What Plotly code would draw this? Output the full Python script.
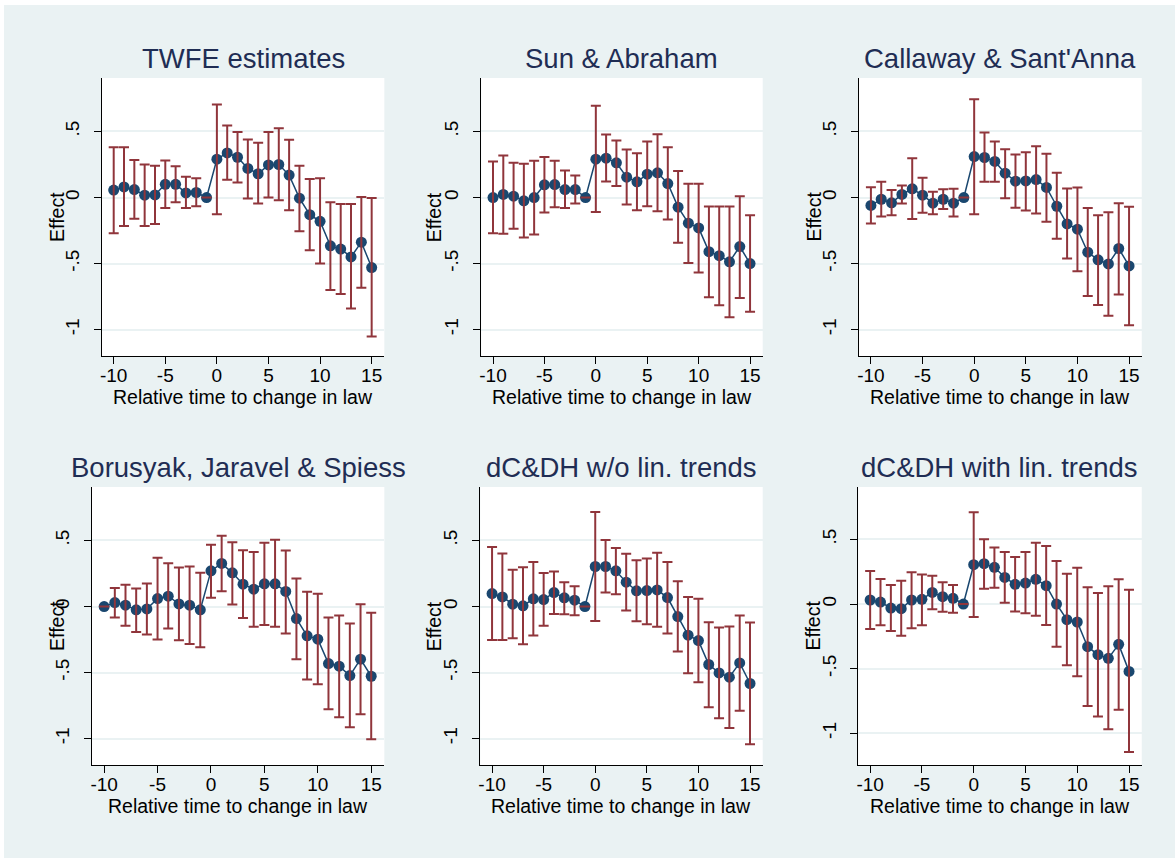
import plotly.graph_objects as go

rel_time = list(range(-10, 16))

panel_titles = ["TWFE estimates", "Sun & Abraham", "Callaway & Sant'Anna",
                "Borusyak, Jaravel & Spiess", "dC&DH w/o lin. trends", "dC&DH with lin. trends"]

twfe_est = [0.056, 0.080, 0.060, 0.018, 0.020, 0.100, 0.100, 0.035, 0.038, 0.0, 0.290, 0.338, 0.305, 0.220, 0.180, 0.247, 0.250, 0.170, -0.005, -0.130, -0.180, -0.366, -0.390, -0.450, -0.338, -0.530]
twfe_hi = [0.380, 0.380, 0.285, 0.250, 0.240, 0.280, 0.237, 0.157, 0.146, 0.0, 0.705, 0.545, 0.497, 0.440, 0.414, 0.497, 0.525, 0.437, 0.240, 0.141, 0.146, -0.035, -0.050, -0.050, 0.003, -0.003]
twfe_lo = [-0.270, -0.215, -0.160, -0.215, -0.200, -0.080, -0.035, -0.080, -0.066, 0.0, -0.126, 0.134, 0.114, -0.008, -0.045, 0.000, -0.020, -0.096, -0.255, -0.400, -0.500, -0.700, -0.730, -0.840, -0.684, -1.053]

sa_est = [0.0, 0.023, 0.010, -0.025, 0.0, 0.096, 0.098, 0.060, 0.060, 0.0, 0.290, 0.298, 0.263, 0.154, 0.119, 0.177, 0.187, 0.106, -0.073, -0.194, -0.230, -0.410, -0.440, -0.487, -0.371, -0.500]
sa_hi = [0.273, 0.318, 0.263, 0.255, 0.278, 0.306, 0.278, 0.205, 0.167, 0.0, 0.694, 0.477, 0.432, 0.364, 0.336, 0.424, 0.480, 0.381, 0.200, 0.104, 0.104, -0.068, -0.068, -0.068, 0.010, -0.134]
sa_lo = [-0.270, -0.275, -0.237, -0.303, -0.280, -0.114, -0.073, -0.080, -0.045, 0.0, -0.109, 0.121, 0.088, -0.053, -0.096, -0.066, -0.104, -0.167, -0.343, -0.495, -0.568, -0.755, -0.816, -0.907, -0.760, -0.864]

cs_est = [-0.060, -0.013, -0.040, 0.023, 0.066, 0.018, -0.043, -0.013, -0.043, 0.0, 0.310, 0.303, 0.273, 0.184, 0.124, 0.126, 0.136, 0.076, -0.066, -0.200, -0.240, -0.414, -0.472, -0.503, -0.386, -0.518]
cs_hi = [0.078, 0.119, 0.056, 0.091, 0.298, 0.149, 0.043, 0.063, 0.066, 0.0, 0.745, 0.492, 0.424, 0.366, 0.326, 0.343, 0.389, 0.331, 0.187, 0.068, 0.076, -0.080, -0.134, -0.111, -0.043, -0.070]
cs_lo = [-0.197, -0.144, -0.134, -0.045, -0.162, -0.116, -0.126, -0.086, -0.144, 0.0, -0.126, 0.119, 0.119, -0.005, -0.078, -0.098, -0.121, -0.184, -0.313, -0.462, -0.558, -0.745, -0.813, -0.896, -0.735, -0.967]

bjs_est = [0.0, 0.030, 0.010, -0.025, -0.018, 0.060, 0.078, 0.020, 0.010, -0.025, 0.270, 0.326, 0.255, 0.169, 0.131, 0.172, 0.172, 0.114, -0.091, -0.222, -0.247, -0.432, -0.452, -0.523, -0.399, -0.528]
bjs_hi = [0.0, 0.141, 0.164, 0.136, 0.174, 0.369, 0.328, 0.295, 0.303, 0.255, 0.467, 0.535, 0.487, 0.427, 0.412, 0.482, 0.505, 0.424, 0.212, 0.111, 0.096, -0.083, -0.068, -0.129, 0.018, -0.048]
bjs_lo = [0.0, -0.083, -0.146, -0.192, -0.212, -0.250, -0.167, -0.255, -0.283, -0.308, 0.066, 0.116, 0.015, -0.086, -0.154, -0.139, -0.154, -0.205, -0.399, -0.553, -0.588, -0.778, -0.838, -0.914, -0.816, -1.005]

dcdh_est = [0.098, 0.073, 0.018, 0.005, 0.058, 0.053, 0.106, 0.066, 0.048, 0.0, 0.303, 0.303, 0.270, 0.184, 0.119, 0.121, 0.126, 0.068, -0.076, -0.217, -0.258, -0.439, -0.503, -0.535, -0.427, -0.583]
dcdh_hi = [0.450, 0.402, 0.278, 0.298, 0.338, 0.253, 0.265, 0.184, 0.154, 0.0, 0.715, 0.503, 0.444, 0.399, 0.351, 0.364, 0.407, 0.338, 0.192, 0.073, 0.058, -0.119, -0.159, -0.152, -0.068, -0.121]
dcdh_lo = [-0.253, -0.253, -0.240, -0.285, -0.220, -0.146, -0.056, -0.058, -0.066, 0.0, -0.109, 0.106, 0.093, -0.030, -0.111, -0.134, -0.154, -0.205, -0.341, -0.505, -0.573, -0.763, -0.846, -0.919, -0.790, -1.043]

dcdhlt_est = [0.031, 0.015, -0.031, -0.036, 0.031, 0.036, 0.090, 0.057, 0.044, 0.0, 0.304, 0.312, 0.284, 0.206, 0.152, 0.162, 0.191, 0.142, 0.0, -0.121, -0.139, -0.330, -0.392, -0.420, -0.312, -0.521]
dcdhlt_hi = [0.255, 0.193, 0.147, 0.180, 0.245, 0.229, 0.219, 0.168, 0.147, 0.0, 0.709, 0.500, 0.438, 0.402, 0.363, 0.402, 0.474, 0.448, 0.332, 0.235, 0.281, 0.129, 0.085, 0.137, 0.191, 0.111]
dcdhlt_lo = [-0.193, -0.165, -0.209, -0.245, -0.188, -0.165, -0.041, -0.059, -0.067, 0.0, -0.100, 0.119, 0.126, 0.010, -0.057, -0.072, -0.090, -0.162, -0.330, -0.474, -0.559, -0.789, -0.869, -0.969, -0.817, -1.144]

x_tick_vals = [-10, -5, 0, 5, 10, 15]
x_tick_text = ["-10", "-5", "0", "5", "10", "15"]
y_tick_vals = [-1, -0.5, 0, 0.5]
y_tick_text = ["-1", "-.5", "0", ".5"]
x_title = "Relative time to change in law"
y_title = "Effect"

series = [(twfe_est, twfe_lo, twfe_hi), (sa_est, sa_lo, sa_hi), (cs_est, cs_lo, cs_hi),
          (bjs_est, bjs_lo, bjs_hi), (dcdh_est, dcdh_lo, dcdh_hi), (dcdhlt_est, dcdhlt_lo, dcdhlt_hi)]

# ---- layout geometry (pixels) ----
W, H = 1171, 853
OX, OY = 4, 5

def xp(px):
    return (px - OX) / W

def yp(py):
    return 1 - (py - OY) / H

# plot areas: (left, right, top, bottom) in page pixels
boxes = [(100, 383, 78, 356), (480, 762, 78, 356), (858.5, 1141.7, 78, 356),
         (90, 383, 487, 765), (479, 762, 487, 765), (857.7, 1141.7, 487, 765)]
y_ranges = [[-1.2, 0.905]] * 5 + [[-1.245, 0.905]]
x_range = [-11.15, 16.23]
effect_x = [55, 433, 813, 55, 433, 812]
title_y = [58, 58, 58, 467, 467, 467]
xtitle_y = [397, 397, 397, 806, 806, 806]

FONT = "Liberation Sans, Arial, sans-serif"
NAVY = "#1a476f"
MAROON = "#90353b"
BG = "#EAF2F3"

fig = go.Figure()
layout = dict(width=W, height=H, margin=dict(l=0, r=0, t=0, b=0),
              paper_bgcolor=BG, plot_bgcolor="white", showlegend=False,
              font=dict(family=FONT, color="black"))
annotations = []

for i, ((est, lo, hi), box, yr) in enumerate(zip(series, boxes, y_ranges)):
    n = i + 1
    xa = "x" if n == 1 else f"x{n}"
    ya = "y" if n == 1 else f"y{n}"
    l, r, t, b = box
    fig.add_trace(go.Scatter(
        x=rel_time, y=est, xaxis=xa, yaxis=ya, mode="lines+markers",
        line=dict(color=NAVY, width=1.5),
        marker=dict(color=NAVY, size=11), hoverinfo="skip"))
    fig.add_trace(go.Scatter(
        x=rel_time, y=est, xaxis=xa, yaxis=ya, mode="markers",
        marker=dict(opacity=0, size=1),
        error_y=dict(type="data", symmetric=False,
                     array=[h - e for h, e in zip(hi, est)],
                     arrayminus=[e - lw for e, lw in zip(est, lo)],
                     color=MAROON, thickness=2, width=5),
        hoverinfo="skip"))
    xkey = "xaxis" if n == 1 else f"xaxis{n}"
    ykey = "yaxis" if n == 1 else f"yaxis{n}"
    layout[xkey] = dict(domain=[xp(l), xp(r)], anchor=ya, range=x_range,
                        tickmode="array", tickvals=x_tick_vals, ticktext=x_tick_text,
                        showgrid=False, zeroline=False, showline=True,
                        linecolor="black", linewidth=1.2,
                        ticks="outside", ticklen=7, tickwidth=1.2, tickcolor="black",
                        ticklabelstandoff=-5,
                        tickfont=dict(size=19, family=FONT, color="black"))
    layout[ykey] = dict(domain=[yp(b), yp(t)], anchor=xa, range=yr,
                        tickmode="array", tickvals=y_tick_vals, ticktext=y_tick_text,
                        tickangle=-90,
                        showgrid=True, gridcolor=BG, gridwidth=2, zeroline=False,
                        showline=True, linecolor="black", linewidth=1.2,
                        ticks="outside", ticklen=7, tickwidth=1.2, tickcolor="black",
                        ticklabelstandoff=7,
                        tickfont=dict(size=19, family=FONT, color="black"))
    cx = (l + r) / 2
    annotations.append(dict(text=panel_titles[i], xref="paper", yref="paper",
                            x=xp(cx), y=yp(title_y[i]), xanchor="center", yanchor="middle",
                            showarrow=False, font=dict(size=27.5, family=FONT, color="#1f2d54")))
    annotations.append(dict(text=x_title, xref="paper", yref="paper",
                            x=xp(cx), y=yp(xtitle_y[i]), xanchor="center", yanchor="middle",
                            showarrow=False, font=dict(size=19.5, family=FONT, color="black")))
    annotations.append(dict(text=y_title, xref="paper", yref="paper", textangle=-90,
                            x=xp(effect_x[i]), y=yp((t + b) / 2), xanchor="center", yanchor="middle",
                            showarrow=False, font=dict(size=19.5, family=FONT, color="black")))

layout["annotations"] = annotations
fig.update_layout(**layout)

fig.write_html("out.html",
               post_script="document.body.style.margin='5px 0 0 4px';document.body.style.overflow='hidden';")
